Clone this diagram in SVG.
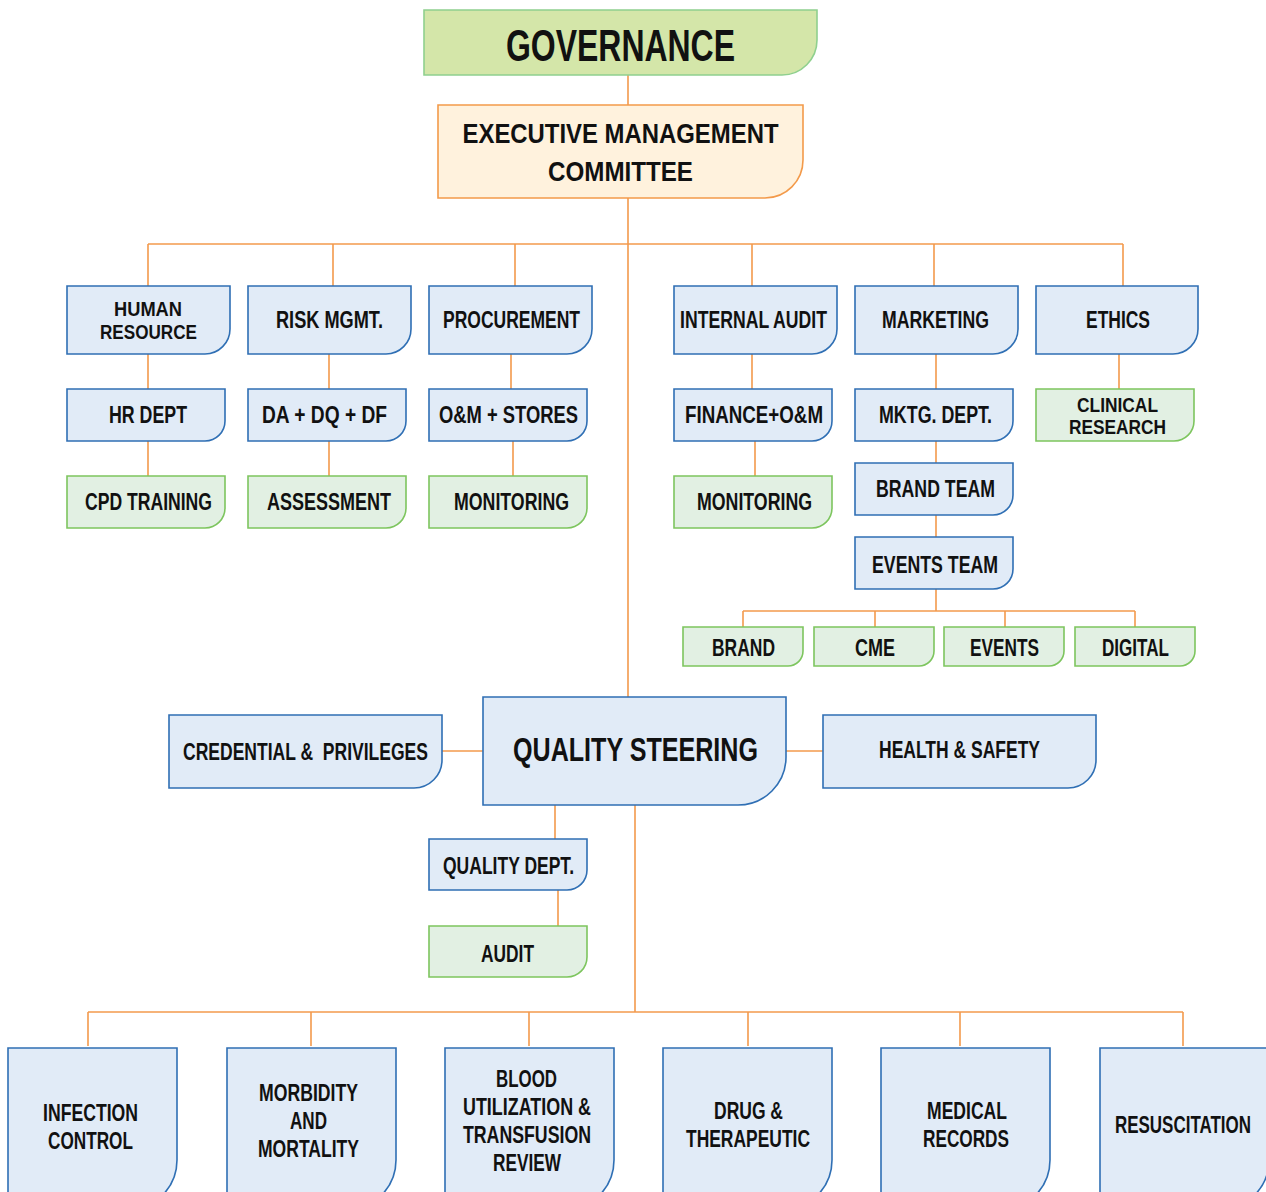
<svg xmlns="http://www.w3.org/2000/svg" width="1266" height="1192" viewBox="0 0 1266 1192">
<style>
.b{fill:#E1EBF7;stroke:#2F6FB4;stroke-width:1.6}
.g{fill:#E2F0E3;stroke:#7DC55E;stroke-width:1.6}
.gov{fill:#D4E6A9;stroke:#8FD08E;stroke-width:1.6}
.ex{fill:#FFF2DD;stroke:#F39A4A;stroke-width:1.6}
.c{fill:none;stroke:#F39A4D;stroke-width:1.6}
text{font-family:"Liberation Sans Narrow","Liberation Sans",Arial,sans-serif;font-weight:bold;fill:#111;text-anchor:middle;font-size:23px}
.t2{font-size:21px}
</style>
<rect width="1266" height="1192" fill="#fff"/>
<g id="connectors">
<path class="c" d="M628 75V105M628 198V697M148 244H1123M148 244V286M333 244V286M515 244V286M752 244V286M934 244V286M1123 244V286"/>
<path class="c" d="M148 354V389M148 441V476M329 354V389M329 441V476M511 354V389M513 441V476"/>
<path class="c" d="M752 354V389M755 441V476M936 354V389M936 441V463M936 515V537M936 589V611M743 611H1135M743 611V627M875 611V627M1005 611V627M1135 611V627M1119 354V389"/>
<path class="c" d="M442 751H483M786 751H823M555 805V839M558 890V926M635 805V1012M88 1012H1183M88 1012V1046M311 1012V1046M529 1012V1046M748 1012V1046M960 1012V1046M1183 1012V1046"/>
</g>
<g id="governance"><path class="gov" d="M424 10H817V40A35 35 0 0 1 782 75H424Z"/><text x="620.5" y="61" style="font-size:44px" textLength="229" lengthAdjust="spacingAndGlyphs">GOVERNANCE</text></g>
<g id="executive"><path class="ex" d="M438 105H803V160A38 38 0 0 1 765 198H438Z"/><text x="620.5" y="143" style="font-size:28px" textLength="316" lengthAdjust="spacingAndGlyphs">EXECUTIVE MANAGEMENT</text><text x="620.5" y="181" style="font-size:28px" textLength="145" lengthAdjust="spacingAndGlyphs">COMMITTEE</text></g>

<g id="human-resource"><path class="b" d="M67 286H230V329A25 25 0 0 1 205 354H67Z"/><text class="t2" x="148" y="316" textLength="68" lengthAdjust="spacingAndGlyphs">HUMAN</text><text class="t2" x="148.5" y="339" textLength="97" lengthAdjust="spacingAndGlyphs">RESOURCE</text></g>
<g id="risk-mgmt"><path class="b" d="M248 286H411V329A25 25 0 0 1 386 354H248Z"/><text x="329.5" y="328" textLength="107" lengthAdjust="spacingAndGlyphs">RISK MGMT.</text></g>
<g id="procurement"><path class="b" d="M429 286H592V329A25 25 0 0 1 567 354H429Z"/><text x="511.5" y="328" textLength="137" lengthAdjust="spacingAndGlyphs">PROCUREMENT</text></g>
<g id="internal-audit"><path class="b" d="M674 286H837V329A25 25 0 0 1 812 354H674Z"/><text x="753.5" y="328" textLength="147" lengthAdjust="spacingAndGlyphs">INTERNAL AUDIT</text></g>
<g id="marketing"><path class="b" d="M855 286H1018V329A25 25 0 0 1 993 354H855Z"/><text x="935.5" y="328" textLength="107" lengthAdjust="spacingAndGlyphs">MARKETING</text></g>
<g id="ethics"><path class="b" d="M1036 286H1198V329A25 25 0 0 1 1173 354H1036Z"/><text x="1118" y="328" textLength="64" lengthAdjust="spacingAndGlyphs">ETHICS</text></g>

<g id="hr-dept"><path class="b" d="M67 389H225V421A20 20 0 0 1 205 441H67Z"/><text x="148" y="423" textLength="78" lengthAdjust="spacingAndGlyphs">HR DEPT</text></g>
<g id="da-dq-df"><path class="b" d="M248 389H406V421A20 20 0 0 1 386 441H248Z"/><text x="324.5" y="423" textLength="125" lengthAdjust="spacingAndGlyphs">DA + DQ + DF</text></g>
<g id="om-stores"><path class="b" d="M429 389H587V421A20 20 0 0 1 567 441H429Z"/><text x="508.5" y="423" textLength="139" lengthAdjust="spacingAndGlyphs">O&amp;M + STORES</text></g>
<g id="finance-om"><path class="b" d="M674 389H832V421A20 20 0 0 1 812 441H674Z"/><text x="754" y="423" textLength="138" lengthAdjust="spacingAndGlyphs">FINANCE+O&amp;M</text></g>
<g id="mktg-dept"><path class="b" d="M855 389H1013V421A20 20 0 0 1 993 441H855Z"/><text x="935.5" y="423" textLength="113" lengthAdjust="spacingAndGlyphs">MKTG. DEPT.</text></g>
<g id="clinical-research"><path class="g" d="M1036 389H1194V421A20 20 0 0 1 1174 441H1036Z"/><text class="t2" x="1117.5" y="412" textLength="81" lengthAdjust="spacingAndGlyphs">CLINICAL</text><text class="t2" x="1117.5" y="434" textLength="97" lengthAdjust="spacingAndGlyphs">RESEARCH</text></g>

<g id="cpd-training"><path class="g" d="M67 476H225V508A20 20 0 0 1 205 528H67Z"/><text x="148.5" y="510" textLength="127" lengthAdjust="spacingAndGlyphs">CPD TRAINING</text></g>
<g id="assessment"><path class="g" d="M248 476H406V508A20 20 0 0 1 386 528H248Z"/><text x="329" y="510" textLength="124" lengthAdjust="spacingAndGlyphs">ASSESSMENT</text></g>
<g id="monitoring-1"><path class="g" d="M429 476H587V508A20 20 0 0 1 567 528H429Z"/><text x="511.5" y="510" textLength="115" lengthAdjust="spacingAndGlyphs">MONITORING</text></g>
<g id="monitoring-2"><path class="g" d="M674 476H832V508A20 20 0 0 1 812 528H674Z"/><text x="754.5" y="510" textLength="115" lengthAdjust="spacingAndGlyphs">MONITORING</text></g>
<g id="brand-team"><path class="b" d="M855 463H1013V495A20 20 0 0 1 993 515H855Z"/><text x="935.5" y="497" textLength="119" lengthAdjust="spacingAndGlyphs">BRAND TEAM</text></g>
<g id="events-team"><path class="b" d="M855 537H1013V569A20 20 0 0 1 993 589H855Z"/><text x="935" y="573" textLength="126" lengthAdjust="spacingAndGlyphs">EVENTS TEAM</text></g>

<g id="brand"><path class="g" d="M683 627H803V651A15 15 0 0 1 788 666H683Z"/><text x="743.5" y="656" textLength="63" lengthAdjust="spacingAndGlyphs">BRAND</text></g>
<g id="cme"><path class="g" d="M814 627H934V651A15 15 0 0 1 919 666H814Z"/><text x="875" y="656" textLength="40" lengthAdjust="spacingAndGlyphs">CME</text></g>
<g id="events"><path class="g" d="M944 627H1064V651A15 15 0 0 1 1049 666H944Z"/><text x="1004.5" y="656" textLength="69" lengthAdjust="spacingAndGlyphs">EVENTS</text></g>
<g id="digital"><path class="g" d="M1075 627H1195V651A15 15 0 0 1 1180 666H1075Z"/><text x="1135.5" y="656" textLength="67" lengthAdjust="spacingAndGlyphs">DIGITAL</text></g>

<g id="quality-steering"><path class="b" d="M483 697H786V757A48 48 0 0 1 738 805H483Z"/><text x="635.5" y="761" style="font-size:33px" textLength="245" lengthAdjust="spacingAndGlyphs">QUALITY STEERING</text></g>
<g id="credential-privileges"><path class="b" d="M169 715H442V760A28 28 0 0 1 414 788H169Z"/><text x="305.5" y="760" textLength="245" lengthAdjust="spacingAndGlyphs" xml:space="preserve">CREDENTIAL &amp;  PRIVILEGES</text></g>
<g id="health-safety"><path class="b" d="M823 715H1096V760A28 28 0 0 1 1068 788H823Z"/><text x="959.5" y="758" textLength="161" lengthAdjust="spacingAndGlyphs">HEALTH &amp; SAFETY</text></g>
<g id="quality-dept"><path class="b" d="M429 839H587V870A20 20 0 0 1 567 890H429Z"/><text x="508.5" y="874" textLength="131" lengthAdjust="spacingAndGlyphs">QUALITY DEPT.</text></g>
<g id="audit"><path class="g" d="M429 926H587V957A20 20 0 0 1 567 977H429Z"/><text x="507.5" y="962" textLength="53" lengthAdjust="spacingAndGlyphs">AUDIT</text></g>

<g id="infection-control"><path class="b" d="M8 1048H177V1160A50 50 0 0 1 127 1210H8Z"/><text x="90.5" y="1121" textLength="95" lengthAdjust="spacingAndGlyphs">INFECTION</text><text x="90.5" y="1149" textLength="85" lengthAdjust="spacingAndGlyphs">CONTROL</text></g>
<g id="morbidity-mortality"><path class="b" d="M227 1048H396V1160A50 50 0 0 1 346 1210H227Z"/><text x="308.5" y="1101" textLength="99" lengthAdjust="spacingAndGlyphs">MORBIDITY</text><text x="308.5" y="1129" textLength="37" lengthAdjust="spacingAndGlyphs">AND</text><text x="308.5" y="1157" textLength="101" lengthAdjust="spacingAndGlyphs">MORTALITY</text></g>
<g id="blood-utilization"><path class="b" d="M445 1048H614V1160A50 50 0 0 1 564 1210H445Z"/><text x="526.5" y="1087" textLength="61" lengthAdjust="spacingAndGlyphs">BLOOD</text><text x="527" y="1115" textLength="128" lengthAdjust="spacingAndGlyphs">UTILIZATION &amp;</text><text x="527" y="1143" textLength="128" lengthAdjust="spacingAndGlyphs">TRANSFUSION</text><text x="527" y="1171" textLength="68" lengthAdjust="spacingAndGlyphs">REVIEW</text></g>
<g id="drug-therapeutic"><path class="b" d="M663 1048H832V1160A50 50 0 0 1 782 1210H663Z"/><text x="748.5" y="1119" textLength="69" lengthAdjust="spacingAndGlyphs">DRUG &amp;</text><text x="748" y="1147" textLength="124" lengthAdjust="spacingAndGlyphs">THERAPEUTIC</text></g>
<g id="medical-records"><path class="b" d="M881 1048H1050V1160A50 50 0 0 1 1000 1210H881Z"/><text x="967" y="1119" textLength="80" lengthAdjust="spacingAndGlyphs">MEDICAL</text><text x="966" y="1147" textLength="86" lengthAdjust="spacingAndGlyphs">RECORDS</text></g>
<g id="resuscitation"><path class="b" d="M1100 1048H1269V1160A50 50 0 0 1 1219 1210H1100Z"/><text x="1183" y="1133" textLength="136" lengthAdjust="spacingAndGlyphs">RESUSCITATION</text></g>
</svg>
